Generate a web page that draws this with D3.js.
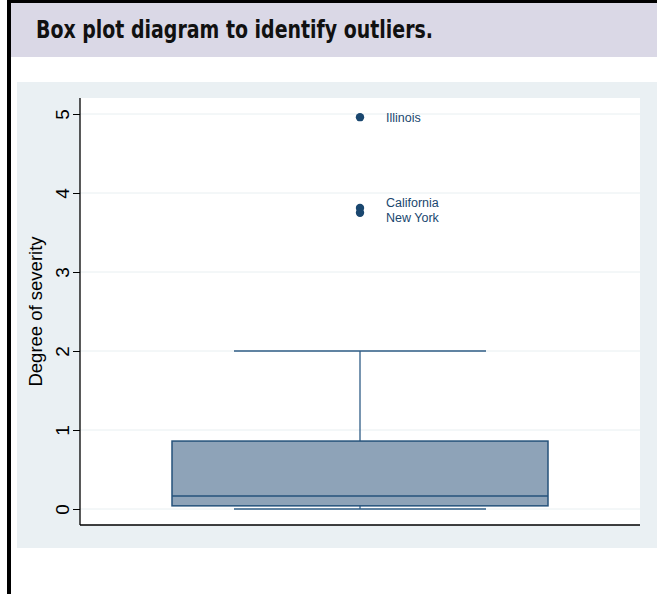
<!DOCTYPE html>
<html>
<head>
<meta charset="utf-8">
<script src="https://cdn.jsdelivr.net/npm/d3@7"></script>
<style>
  body { margin: 0; background: #fff; }
  svg { display: block; }
</style>
</head>
<body>
<script>
// box plot summary
var boxStats = [0.04, 0.165, 0.86]   // q1, median, q3
var whiskers = [0, 2]
var outlierNames = ["Illinois", "California", "New York"]
var outlierValues = [4.96, 3.81, 3.75]
var yTicks = [0, 1, 2, 3, 4, 5]

var W = 657, H = 594
var svg = d3.select("body").append("svg")
            .attr("width", W).attr("height", H)

// frame + title band
svg.append("rect").attr("x", 11).attr("y", 3).attr("width", W - 11).attr("height", 54).attr("fill", "#dad8e6")
svg.append("line").attr("x1", 7).attr("x2", W).attr("y1", 1.5).attr("y2", 1.5).attr("stroke", "#000").attr("stroke-width", 3)
svg.append("line").attr("x1", 9).attr("x2", 9).attr("y1", 0).attr("y2", H).attr("stroke", "#000").attr("stroke-width", 4)
svg.append("text").attr("x", 36).attr("y", 38)
   .attr("font-family", "'DejaVu Sans', sans-serif").style("font-stretch", "condensed")
   .attr("font-weight", "bold").attr("font-size", 25).attr("fill", "#111")
   .attr("textLength", 397).attr("lengthAdjust", "spacingAndGlyphs")
   .text("Box plot diagram to identify outliers.")

// graph region
svg.append("rect").attr("x", 17).attr("y", 82).attr("width", W - 17).attr("height", 466).attr("fill", "#eaf0f3")

var plot = { left: 80, right: 640, top: 98, bottom: 525 }
svg.append("rect").attr("x", plot.left).attr("y", plot.top)
   .attr("width", plot.right - plot.left).attr("height", plot.bottom - plot.top).attr("fill", "#fff")

var y = d3.scaleLinear().domain([0, 5]).range([509, 114])
var x = d3.scaleLinear().domain([0, 1]).range([plot.left, plot.right])
var cx = x(0.5), boxHalf = 188, capHalf = 126

// gridlines
svg.append("g").selectAll("line").data(yTicks).enter().append("line")
   .attr("x1", plot.left).attr("x2", plot.right)
   .attr("y1", d => y(d)).attr("y2", d => y(d))
   .attr("stroke", "#e8eff1").attr("stroke-width", 1)

// y axis
var yAxis = svg.append("g").attr("transform", "translate(" + plot.left + ",0)")
   .call(d3.axisLeft(y).tickValues(yTicks).tickSize(7).tickFormat(d3.format("d")))
yAxis.attr("font-size", null).attr("font-family", null)
yAxis.select(".domain").attr("d", "M0," + plot.top + "V" + plot.bottom).attr("stroke", "#000").attr("stroke-width", 1.3)
yAxis.selectAll(".tick line").attr("stroke", "#000")
yAxis.selectAll(".tick text")
   .style("font-family", "'Liberation Sans', Arial, sans-serif").style("font-size", "19px").attr("fill", "#000")
   .attr("text-anchor", "middle").attr("dy", null)
   .attr("transform", "rotate(-90)").attr("x", 0).attr("y", -11)

svg.append("text")
   .attr("transform", "translate(42," + y(2.5) + ") rotate(-90)")
   .attr("text-anchor", "middle")
   .attr("font-family", "'Liberation Sans', Arial, sans-serif").attr("font-size", 18.5).attr("fill", "#000")
   .text("Degree of severity")

// x axis line
svg.append("line").attr("x1", plot.left).attr("x2", plot.right)
   .attr("y1", plot.bottom).attr("y2", plot.bottom).attr("stroke", "#000").attr("stroke-width", 1.5)

// whiskers
var wc = "#2f5c86"
var g = svg.append("g")
g.append("line").attr("x1", cx).attr("x2", cx).attr("y1", y(whiskers[1])).attr("y2", y(boxStats[2]))
 .attr("stroke", wc).attr("stroke-width", 1.3)
g.append("line").attr("x1", cx).attr("x2", cx).attr("y1", y(boxStats[0])).attr("y2", y(whiskers[0]))
 .attr("stroke", wc).attr("stroke-width", 1.3)
g.selectAll(".cap").data(whiskers).enter().append("line").attr("class", "cap")
 .attr("x1", cx - capHalf).attr("x2", cx + capHalf)
 .attr("y1", d => y(d)).attr("y2", d => y(d))
 .attr("stroke", wc).attr("stroke-width", 1.3)

// box
g.append("rect").attr("x", cx - boxHalf).attr("width", boxHalf * 2)
 .attr("y", y(boxStats[2])).attr("height", y(boxStats[0]) - y(boxStats[2]))
 .attr("fill", "#8ea3b8").attr("stroke", "#25527b").attr("stroke-width", 1.5)
g.append("line").attr("x1", cx - boxHalf).attr("x2", cx + boxHalf)
 .attr("y1", y(boxStats[1])).attr("y2", y(boxStats[1]))
 .attr("stroke", "#25527b").attr("stroke-width", 1.5)

// outliers
var outliers = outlierNames.map((n, i) => ({ name: n, value: outlierValues[i] }))
g.selectAll(".pt").data(outliers).enter().append("circle").attr("class", "pt")
 .attr("cx", cx).attr("cy", d => y(d.value)).attr("r", 4.2).attr("fill", "#1a476f")
var labelNudge = { "California": -5, "New York": 5 }
g.selectAll(".lbl").data(outliers).enter().append("text").attr("class", "lbl")
 .attr("x", cx + 26).attr("y", d => y(d.value) + (labelNudge[d.name] || 0))
 .attr("dy", "0.35em")
 .attr("font-family", "'Liberation Sans', Arial, sans-serif").attr("font-size", 12.5).attr("fill", "#1a476f")
 .text(d => d.name)
</script>
</body>
</html>
